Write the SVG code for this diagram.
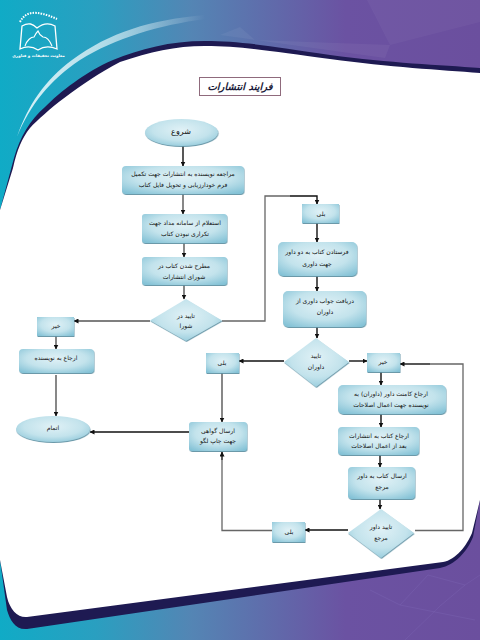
<svg xmlns="http://www.w3.org/2000/svg" width="480" height="640" viewBox="0 0 480 640">
<defs>
<linearGradient id="bg" x1="0" y1="0" x2="480" y2="0" gradientUnits="userSpaceOnUse"><stop offset="0" stop-color="#10abc6"/><stop offset="0.2" stop-color="#2a9fc0"/><stop offset="0.4" stop-color="#5485b4"/><stop offset="0.72" stop-color="#6b52a2"/><stop offset="1" stop-color="#6b4f9e"/></linearGradient>
<linearGradient id="sw" x1="17" y1="0" x2="205" y2="0" gradientUnits="userSpaceOnUse"><stop offset="0" stop-color="#d8f2f8"/><stop offset="0.35" stop-color="#c5e6ef" stop-opacity=".95"/><stop offset="0.7" stop-color="#fff" stop-opacity=".4"/><stop offset="1" stop-color="#fff" stop-opacity="0"/></linearGradient>
<radialGradient id="nf" cx="0.5" cy="0.4" r="0.72"><stop offset="0" stop-color="#e0f1f6"/><stop offset="0.55" stop-color="#c3e3ec"/><stop offset="1" stop-color="#84c2d6"/></radialGradient>
<filter id="sh" x="-10%" y="-10%" width="120%" height="125%"><feDropShadow dx="0.5" dy="1" stdDeviation="0.5" flood-color="#5c8ea0" flood-opacity="0.9"/></filter>
<marker id="a" markerWidth="5" markerHeight="5" refX="4.500" refY="2.500" orient="auto" markerUnits="userSpaceOnUse"><path d="M0 0L5 2.500L0 5z" fill="#111"/></marker>
</defs>
<style>
.n{fill:url(#nf);filter:url(#sh)}
.t{font-family:"DejaVu Sans",sans-serif;font-size:6.100px;fill:#111;text-anchor:middle;direction:rtl}
.c{fill:none;stroke-width:1.400;marker-end:url(#a)}
.k{stroke:#111}
.g{stroke:#555}
.l{fill:none;stroke:#666;stroke-width:1.300}
</style>
<g id="background">
<rect width="480" height="640" fill="url(#bg)"/>
<path d="M17 137C30 105 50 80 80 60C115 38 160 25 205 19V15C150 20 110 32 72 60C45 80 28 105 17 137Z" fill="url(#sw)"/>
<path d="M367 0L390 45L480 22V0Z" fill="#fff" opacity=".04"/>
<path d="M220 35L240 27L255 40L390 45L385 58Z" fill="#fff" opacity=".05"/>
<path d="M428 575L465 585L440 606L405 640M428 575L400 605L475 620M465 585L480 575M370 590L400 605" fill="none" stroke="#8a78c4" stroke-width=".6" opacity=".35"/>
<path d="M0 210L14 158C20 137 30 120 45 107C60 92 85 72 113 60C140 49 170 41 205 41C240 41 270 46 330 55C390 63 440 65 480 68V500L473 537C467 552 455 565 440 568L27 629C15 630 10 620 7 610L0 560Z" fill="#1e1a52"/>
<path d="M0 210L13 168C17 150 22 138 30 128C45 112 80 83 120 62C150 52 175 46 205 46C240 46 270 51 330 59C390 67 440 70 480 73V500L472 533C467 545 456 560 443 562L27 617C18 618 10 610 7 597L0 560Z" fill="#fff"/>
</g>
<g id="logo" fill="none" stroke="#fff">
<path d="M22 26C29 22 33 24 37 28C42 24 48 22 55 26L57 49C50 46 44 46 38 50C32 46 26 46 20 49Z" stroke-width="1.300"/>
<path d="M25 46C27 40 31 37 34 37C36 33 38 31 38 31C39 34 41 36 43 37C47 37 50 41 52 46" stroke-width="1.100"/>
<path d="M20 22C25 12 35 9 57 19" stroke-width="2" stroke-dasharray="1.500 1.200"/>
<text x="38.500" y="57" font-family="DejaVu Sans, sans-serif" font-size="4" font-weight="bold" fill="#fff" stroke="none" text-anchor="middle" direction="rtl">معاونت تحقیقات و فناوری</text>
</g>
<g id="title">
<rect x="199.500" y="77.500" width="81" height="18" fill="#fff" stroke="#8f6a7c" stroke-width="1"/>
<text x="240" y="89.500" font-family="DejaVu Sans, sans-serif" font-size="10" font-weight="bold" font-style="italic" fill="#1c1c3a" text-anchor="middle" direction="rtl">فرایند انتشارات</text>
</g>
<g id="connectors">
<path class="c k" d="M183 146V166"/>
<path class="c g" d="M183 194V214"/>
<path class="c g" d="M184 243V257"/>
<path class="c g" d="M184 285V299"/>
<path class="c g" d="M150 321H74"/>
<path class="l" d="M222 321H265V196H290"/>
<path class="c k" d="M290 196H317V204"/>
<path class="c k" d="M317 223V242"/>
<path class="c k" d="M317 276V291"/>
<path class="c k" d="M317 327V338"/>
<path class="c k" d="M349 361H367"/>
<path class="c k" d="M284 361H239"/>
<path class="c g" d="M222 373V422"/>
<path class="c k" d="M189 432H90"/>
<path class="c g" d="M56 336V349"/>
<path class="c g" d="M56 375V416"/>
<path class="c k" d="M381 372V385"/>
<path class="c k" d="M381 414V427"/>
<path class="c k" d="M380 455V467"/>
<path class="c k" d="M380 499V509"/>
<path class="c k" d="M348 530H305"/>
<path class="l" d="M415 530.500H463V364H430"/>
<path class="c k" d="M430 364H400"/>
<path class="l" d="M272 530.500H222V460"/>
<path class="c k" d="M222 460V452"/>
</g>
<g id="start"><ellipse class="n" cx="181.500" cy="132.500" rx="36.500" ry="13.500"/><text class="t" x="181" y="134" style="font-size:8px">شروع</text></g>
<g id="n1"><rect class="n" x="122" y="166" width="122" height="28" rx="4"/><text class="t" x="183" y="176">مراجعه نویسنده به انتشارات جهت تکمیل</text><text class="t" x="183" y="187">فرم خودارزیابی و تحویل فایل کتاب</text></g>
<g id="n2"><rect class="n" x="142" y="214" width="85" height="29" rx="3"/><text class="t" x="185" y="225">استعلام از سامانه مداد جهت</text><text class="t" x="185" y="236">تکراری نبودن کتاب</text></g>
<g id="n3"><rect class="n" x="142" y="257" width="85" height="28" rx="3"/><text class="t" x="184" y="268">مطرح شدن کتاب در</text><text class="t" x="184" y="279">شورای انتشارات</text></g>
<g id="d1"><path class="n" d="M186 299L222 320.500L186 341L150 320.500Z"/><text class="t" x="186" y="318">تایید در</text><text class="t" x="186" y="328">شورا</text></g>
<g id="no1"><rect class="n" x="37" y="317" width="37" height="19"/><text class="t" x="56" y="328">خیر</text></g>
<g id="n4"><rect class="n" x="19" y="349" width="75" height="24" rx="4"/><text class="t" x="56" y="360">ارجاع به نویسنده</text></g>
<g id="end"><ellipse class="n" cx="53" cy="429" rx="37" ry="13"/><text class="t" x="53" y="430">اتمام</text></g>
<g id="n5"><rect class="n" x="189" y="422" width="58" height="29" rx="3"/><text class="t" x="218" y="433">ارسال گواهی</text><text class="t" x="218" y="443">جهت چاپ لگو</text></g>
<g id="yes2"><rect class="n" x="206" y="353" width="33" height="20"/><text class="t" x="222" y="365">بلی</text></g>
<g id="yes1"><rect class="n" x="302" y="204" width="37" height="19"/><text class="t" x="321" y="216">بلی</text></g>
<g id="n6"><rect class="n" x="278" y="242" width="79" height="34" rx="5"/><text class="t" x="317" y="254">فرستادن کتاب به دو داور</text><text class="t" x="317" y="266">جهت داوری</text></g>
<g id="n7"><rect class="n" x="283" y="291" width="83" height="36" rx="5"/><text class="t" x="325" y="303">دریافت جواب داوری از</text><text class="t" x="325" y="314">داوران</text></g>
<g id="d2"><path class="n" d="M316 338L349 362L316 387L284 362Z"/><text class="t" x="316" y="358">تایید</text><text class="t" x="316" y="369">داوران</text></g>
<g id="no2"><rect class="n" x="367" y="353" width="33" height="19"/><text class="t" x="383" y="364">خیر</text></g>
<g id="n8"><rect class="n" x="338" y="385" width="108" height="29" rx="5"/><text class="t" x="391" y="396">ارجاع کامنت داور (داوران) به</text><text class="t" x="391" y="407">نویسنده جهت اعمال اصلاحات</text></g>
<g id="n9"><rect class="n" x="338" y="427" width="81" height="28" rx="4"/><text class="t" x="379" y="438">ارجاع کتاب به انتشارات</text><text class="t" x="379" y="448">بعد از اعمال اصلاحات</text></g>
<g id="n10"><rect class="n" x="348" y="467" width="67" height="32" rx="4"/><text class="t" x="382" y="478">ارسال کتاب به داور</text><text class="t" x="382" y="489">مرجع</text></g>
<g id="d3"><path class="n" d="M381 509L414 533L381 558L348 533Z"/><text class="t" x="381" y="529">تایید داور</text><text class="t" x="381" y="540">مرجع</text></g>
<g id="yes3"><rect class="n" x="272" y="522" width="33" height="20"/><text class="t" x="289" y="534">بلی</text></g>
</svg>
